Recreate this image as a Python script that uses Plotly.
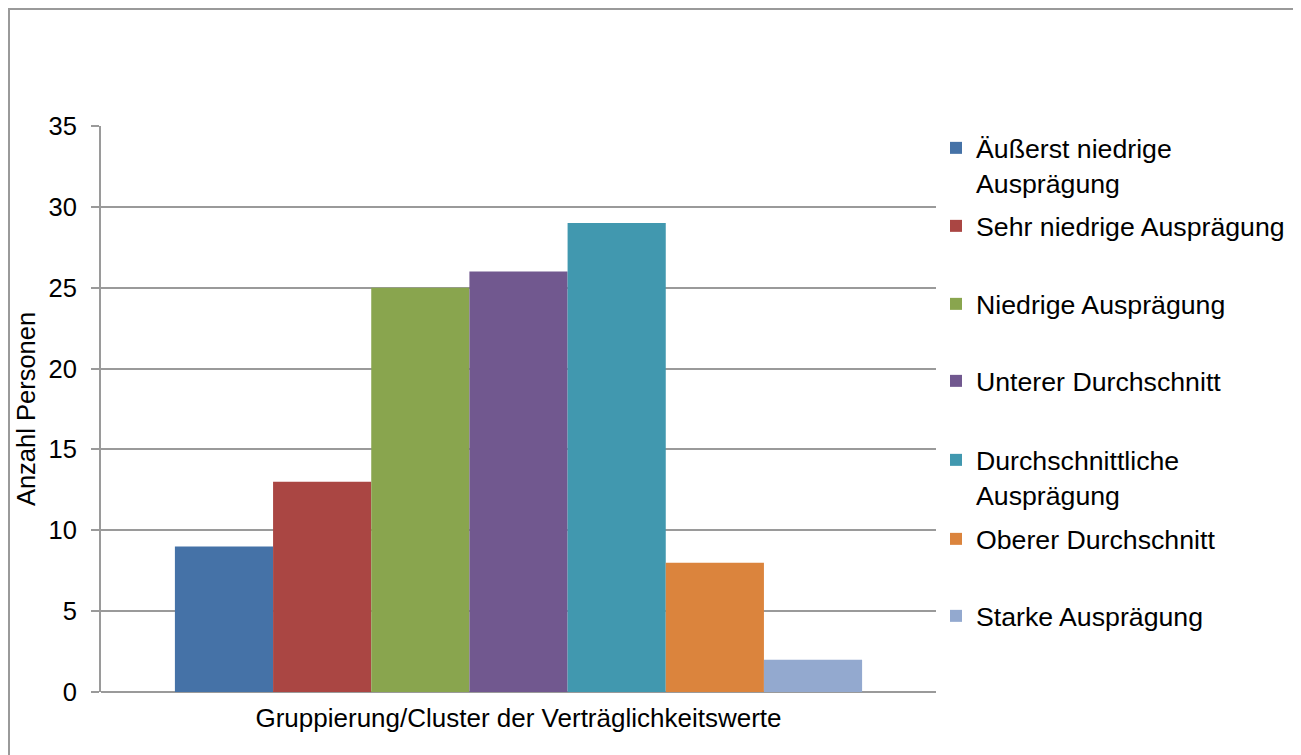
import plotly.graph_objects as go

category = ["Gruppierung/Cluster der Verträglichkeitswerte"]
series_names = [
    "Äußerst niedrige<br>Ausprägung",
    "Sehr niedrige Ausprägung",
    "Niedrige Ausprägung",
    "Unterer Durchschnitt",
    "Durchschnittliche<br>Ausprägung",
    "Oberer Durchschnitt",
    "Starke Ausprägung",
]
values = [9, 13, 25, 26, 29, 8, 2]
colors = ["#4572A7", "#AA4643", "#89A54E", "#71588F", "#4198AF", "#DB843D", "#93A9CF"]
y_ticks = [0, 5, 10, 15, 20, 25, 30, 35]

FONT = "Liberation Sans, Arial, sans-serif"

OFF = 8  # page body margin in the browser
W, H = 1301 - OFF, 755 - OFF
plot_l, plot_r, plot_t, plot_b = 101 - OFF, 936 - OFF, 126 - OFF, 692 - OFF
ml, mr, mt, mb = plot_l, W - plot_r, plot_t, H - plot_b
pw = W - ml - mr
ph = H - mt - mb

# first-line centre of each legend entry (screen pixels from top)
legend_line_px = [150, 228, 306, 383, 462, 541, 618]

fig = go.Figure()
legends = {}
for i, (name, v, c) in enumerate(zip(series_names, values, colors)):
    key = "legend" if i == 0 else f"legend{i + 1}"
    fig.add_trace(go.Bar(x=category, y=[v], name=name,
                         marker=dict(color=c, line=dict(width=0)),
                         legend=key))
    top_px = legend_line_px[i] - OFF - 26
    legends[key] = dict(
        x=(936 - OFF - ml) / pw, xanchor="left",
        y=(plot_b - top_px) / ph, yanchor="top",
        font=dict(size=26.7, family=FONT, color="black"),
        valign="top", itemwidth=30,
        bgcolor="rgba(0,0,0,0)",
    )

fig.update_layout(
    width=W, height=H,
    margin=dict(l=ml, r=mr, t=mt, b=mb, autoexpand=False),
    paper_bgcolor="white", plot_bgcolor="white",
    font=dict(family=FONT, size=25, color="black"),
    barmode="group", bargap=0.177, bargroupgap=0,
    showlegend=True,
    xaxis=dict(
        showgrid=False, showline=False, ticks="",
        tickfont=dict(size=26), zeroline=False, automargin=False,
        ticklabelstandoff=8,
    ),
    yaxis=dict(
        range=[0, 35], tickvals=y_ticks, ticks="outside", ticklen=8,
        tickcolor="#9a9a9a", tickwidth=2,
        showgrid=True, gridcolor="#9a9a9a", gridwidth=2,
        showline=True, linecolor="#9a9a9a", linewidth=2,
        zeroline=True, zerolinecolor="#9a9a9a", zerolinewidth=2,
        tickfont=dict(size=25.5), ticklabelstandoff=9,
        title=dict(text="Anzahl Personen", font=dict(size=25.5), standoff=6),
        automargin=False,
    ),
    shapes=[dict(type="rect", xref="paper", yref="paper",
                 x0=(1 - ml) / pw, x1=(1299 - OFF - ml) / pw,
                 y0=(plot_b - 800) / ph, y1=(plot_b - 1) / ph,
                 line=dict(color="#9a9a9a", width=2), fillcolor="rgba(0,0,0,0)", layer="below")],
    **legends,
)

fig.write_html("out.html")
